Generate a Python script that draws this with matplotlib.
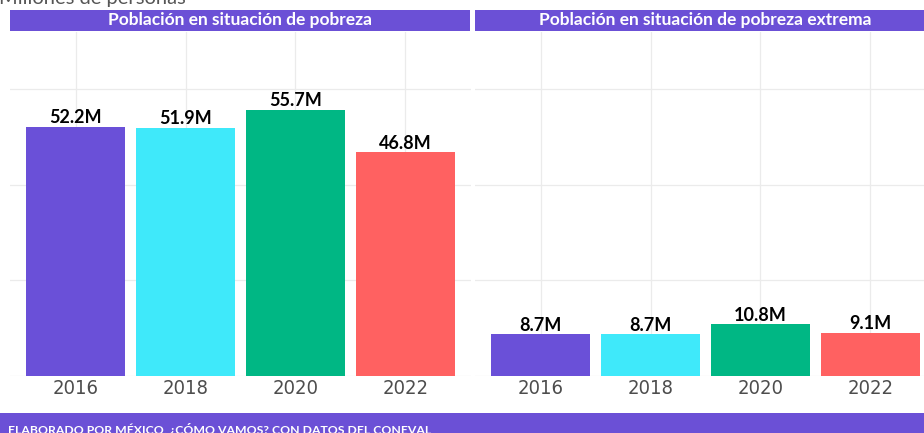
import matplotlib
matplotlib.use("Agg")
import matplotlib.pyplot as plt
from matplotlib.patches import Rectangle

years = ["2016", "2018", "2020", "2022"]
pobreza = [52.2, 51.9, 55.7, 46.8]
pobreza_extrema = [8.7, 8.7, 10.8, 9.1]
panel_titles = ["Población en situación de pobreza", "Población en situación de pobreza extrema"]
colors = ["#6a50d8", "#3fe9fa", "#00b784", "#ff6161"]
purple = "#6b50d6"

W, H = 924, 433
fig = plt.figure(figsize=(W / 100, H / 100), dpi=100)

bold_font = "Lato"

def fx(px):
    return px / W

def fy(py):
    return 1 - py / H

panels = [(10, 471), (475, 936)]
top, bottom = 32, 376
data = [pobreza, pobreza_extrema]

for (x0, x1), vals, title in zip(panels, data, panel_titles):
    ax = fig.add_axes([fx(x0), fy(bottom), fx(x1 - x0), (bottom - top) / H])
    xs = list(range(len(years)))
    ax.bar(xs, vals, width=0.9, color=colors, zorder=2)
    ax.set_xlim(-0.6, len(years) - 0.4)
    ax.set_ylim(0, 72)
    ax.set_yticks([0, 20, 40, 60])
    ax.set_yticklabels([])
    ax.tick_params(axis="y", length=0)
    ax.set_xticks(xs)
    ax.set_xticklabels(years, fontfamily="DejaVu Sans", fontstretch="condensed",
                       fontsize=14.5, color="#4d4d4d")
    ax.tick_params(axis="x", length=0, pad=2)
    ax.grid(True, color="#ebebeb", linewidth=0.9, zorder=0)
    ax.set_axisbelow(True)
    for s in ax.spines.values():
        s.set_visible(False)
    for x, v in zip(xs, vals):
        ax.annotate(f"{v}M", (x, v), xytext=(0, 0.5), textcoords="offset points",
                    ha="center", va="bottom", fontsize=13, fontweight="bold",
                    fontfamily=bold_font, color="black", zorder=3)
    # strip
    fig.patches.append(Rectangle((fx(x0), fy(31)), fx(min(x1, 940) - x0 - 1), 21 / H,
                                 transform=fig.transFigure, facecolor=purple,
                                 edgecolor="none", zorder=1))
    fig.text(fx((x0 + x1) / 2), fy(20.5), title, ha="center", va="center",
             color="white", fontsize=12.5, fontweight="bold", fontfamily=bold_font)

# title (cut off at top)
fig.text(fx(-1), fy(4), "Millones de personas", ha="left", va="baseline",
         fontsize=14.5, color="#555555", fontfamily=bold_font)

# caption bar
fig.patches.append(Rectangle((0, 0), 1, 20 / H, transform=fig.transFigure,
                             facecolor=purple, edgecolor="none", zorder=1))
fig.text(fx(8), fy(434.5), "ELABORADO POR MÉXICO, ¿CÓMO VAMOS? CON DATOS DEL CONEVAL",
         ha="left", va="baseline", fontsize=8.8, fontweight="bold", color="white",
         fontfamily=bold_font)

fig.savefig("out.png", dpi=100, facecolor="white")
